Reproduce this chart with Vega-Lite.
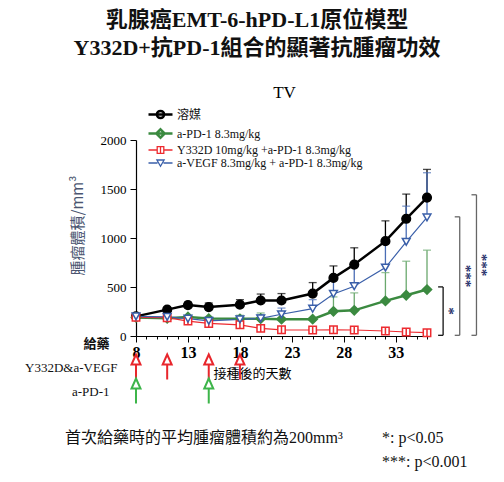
{
  "$schema": "https://vega.github.io/schema/vega-lite/v6.json",
  "width": 291,
  "height": 196,
  "autosize": {"type": "none"},
  "padding": {"left": 136, "top": 140, "right": 77, "bottom": 146},
  "background": "white",
  "title": {
    "text": ["乳腺癌EMT-6-hPD-L1原位模型", "Y332D+抗PD-1組合的顯著抗腫瘤功效"],
    "font": "Liberation Serif, Noto Sans CJK TC",
    "fontSize": 22,
    "fontWeight": "bold",
    "lineHeight": 28,
    "anchor": "middle",
    "frame": "bounds",
    "offset": 23,
    "color": "#111111"
  },
  "config": {
    "view": {"stroke": null},
    "axis": {"grid": false, "domainColor": "#000000", "tickColor": "#000000", "labelColor": "#000000"}
  },
  "datasets": {
    "tv": [
      {"group": "溶媒", "day": 8, "mean": 200, "upper": 210},
      {"group": "溶媒", "day": 11, "mean": 269, "upper": 290},
      {"group": "溶媒", "day": 13, "mean": 315, "upper": 345},
      {"group": "溶媒", "day": 15, "mean": 295, "upper": 337},
      {"group": "溶媒", "day": 18, "mean": 320, "upper": 371},
      {"group": "溶媒", "day": 20, "mean": 362, "upper": 428},
      {"group": "溶媒", "day": 22, "mean": 362, "upper": 433},
      {"group": "溶媒", "day": 25, "mean": 433, "upper": 545},
      {"group": "溶媒", "day": 27, "mean": 593, "upper": 715},
      {"group": "溶媒", "day": 29, "mean": 729, "upper": 900},
      {"group": "溶媒", "day": 32, "mean": 968, "upper": 1175},
      {"group": "溶媒", "day": 34, "mean": 1196, "upper": 1448},
      {"group": "溶媒", "day": 36, "mean": 1412, "upper": 1700},
      {"group": "a-PD-1 8.3mg/kg", "day": 8, "mean": 190, "upper": 200},
      {"group": "a-PD-1 8.3mg/kg", "day": 11, "mean": 180, "upper": 195},
      {"group": "a-PD-1 8.3mg/kg", "day": 13, "mean": 194, "upper": 205},
      {"group": "a-PD-1 8.3mg/kg", "day": 15, "mean": 178, "upper": 190},
      {"group": "a-PD-1 8.3mg/kg", "day": 18, "mean": 175, "upper": 211},
      {"group": "a-PD-1 8.3mg/kg", "day": 20, "mean": 177, "upper": 235},
      {"group": "a-PD-1 8.3mg/kg", "day": 22, "mean": 172, "upper": 185},
      {"group": "a-PD-1 8.3mg/kg", "day": 25, "mean": 172, "upper": 185},
      {"group": "a-PD-1 8.3mg/kg", "day": 27, "mean": 252, "upper": 399},
      {"group": "a-PD-1 8.3mg/kg", "day": 29, "mean": 262, "upper": 440},
      {"group": "a-PD-1 8.3mg/kg", "day": 32, "mean": 358, "upper": 647},
      {"group": "a-PD-1 8.3mg/kg", "day": 34, "mean": 416, "upper": 763},
      {"group": "a-PD-1 8.3mg/kg", "day": 36, "mean": 474, "upper": 876},
      {"group": "Y332D 10mg/kg +a-PD-1 8.3mg/kg", "day": 8, "mean": 190, "upper": 198},
      {"group": "Y332D 10mg/kg +a-PD-1 8.3mg/kg", "day": 11, "mean": 187, "upper": 195},
      {"group": "Y332D 10mg/kg +a-PD-1 8.3mg/kg", "day": 13, "mean": 152, "upper": 162},
      {"group": "Y332D 10mg/kg +a-PD-1 8.3mg/kg", "day": 15, "mean": 128, "upper": 138},
      {"group": "Y332D 10mg/kg +a-PD-1 8.3mg/kg", "day": 18, "mean": 114, "upper": 124},
      {"group": "Y332D 10mg/kg +a-PD-1 8.3mg/kg", "day": 20, "mean": 78, "upper": 86},
      {"group": "Y332D 10mg/kg +a-PD-1 8.3mg/kg", "day": 22, "mean": 63, "upper": 70},
      {"group": "Y332D 10mg/kg +a-PD-1 8.3mg/kg", "day": 25, "mean": 61, "upper": 68},
      {"group": "Y332D 10mg/kg +a-PD-1 8.3mg/kg", "day": 27, "mean": 64, "upper": 71},
      {"group": "Y332D 10mg/kg +a-PD-1 8.3mg/kg", "day": 29, "mean": 61, "upper": 68},
      {"group": "Y332D 10mg/kg +a-PD-1 8.3mg/kg", "day": 32, "mean": 51, "upper": 58},
      {"group": "Y332D 10mg/kg +a-PD-1 8.3mg/kg", "day": 34, "mean": 41, "upper": 48},
      {"group": "Y332D 10mg/kg +a-PD-1 8.3mg/kg", "day": 36, "mean": 34, "upper": 41},
      {"group": "a-VEGF 8.3mg/kg + a-PD-1 8.3mg/kg", "day": 8, "mean": 201, "upper": 212},
      {"group": "a-VEGF 8.3mg/kg + a-PD-1 8.3mg/kg", "day": 11, "mean": 196, "upper": 205},
      {"group": "a-VEGF 8.3mg/kg + a-PD-1 8.3mg/kg", "day": 13, "mean": 177, "upper": 190},
      {"group": "a-VEGF 8.3mg/kg + a-PD-1 8.3mg/kg", "day": 15, "mean": 155, "upper": 168},
      {"group": "a-VEGF 8.3mg/kg + a-PD-1 8.3mg/kg", "day": 18, "mean": 170, "upper": 190},
      {"group": "a-VEGF 8.3mg/kg + a-PD-1 8.3mg/kg", "day": 20, "mean": 180, "upper": 215},
      {"group": "a-VEGF 8.3mg/kg + a-PD-1 8.3mg/kg", "day": 22, "mean": 222, "upper": 285},
      {"group": "a-VEGF 8.3mg/kg + a-PD-1 8.3mg/kg", "day": 25, "mean": 279, "upper": 371},
      {"group": "a-VEGF 8.3mg/kg + a-PD-1 8.3mg/kg", "day": 27, "mean": 429, "upper": 603},
      {"group": "a-VEGF 8.3mg/kg + a-PD-1 8.3mg/kg", "day": 29, "mean": 508, "upper": 705},
      {"group": "a-VEGF 8.3mg/kg + a-PD-1 8.3mg/kg", "day": 32, "mean": 698, "upper": 944},
      {"group": "a-VEGF 8.3mg/kg + a-PD-1 8.3mg/kg", "day": 34, "mean": 961, "upper": 1325},
      {"group": "a-VEGF 8.3mg/kg + a-PD-1 8.3mg/kg", "day": 36, "mean": 1210, "upper": 1666}
    ],
    "dose": [
      {"drug": "Y332D&a-VEGF", "day": 8},
      {"drug": "Y332D&a-VEGF", "day": 11},
      {"drug": "Y332D&a-VEGF", "day": 15},
      {"drug": "Y332D&a-VEGF", "day": 18},
      {"drug": "a-PD-1", "day": 8},
      {"drug": "a-PD-1", "day": 15}
    ],
    "brackets": [
      {"comparison": "a-PD-1 vs Y332D", "day": 37.55, "low": 7, "high": 501, "sig": "*"},
      {"comparison": "a-VEGF vs Y332D", "day": 39.15, "low": 7, "high": 1216, "sig": "***"},
      {"comparison": "溶媒 vs Y332D", "day": 40.76, "low": 7, "high": 1441, "sig": "***"}
    ]
  },
  "encoding": {
    "x": {"field": "day", "type": "quantitative", "scale": {"domain": [8, 36], "nice": false, "zero": false},
      "axis": {
        "values": [8, 9, 10, 11, 12, 13, 14, 15, 16, 17, 18, 19, 20, 21, 22, 23, 24, 25, 26, 27, 28, 29, 30, 31, 32, 33, 34, 35, 36],
        "labelExpr": "(datum.value - 8) % 5 === 0 ? datum.label : ''",
        "format": "d",
        "labelFont": "Liberation Serif",
        "labelFontSize": 16,
        "labelFontWeight": "bold",
        "labelPadding": 2,
        "labelOverlap": false,
        "labelFlush": false,
        "tickSize": {"condition": {"test": "(datum.value - 8) % 5 === 0", "value": 6}, "value": 3},
        "tickWidth": 1,
        "domainWidth": 1.2,
        "title": "接種後的天數",
        "titleFont": "Noto Sans CJK TC",
        "titleFontSize": 13,
        "titleFontWeight": "normal",
        "titleColor": "#000000",
        "titleX": 116,
        "titleY": 37,
        "titleAlign": "center",
        "titleBaseline": "middle"
      }}
  },
  "resolve": {"scale": {"y": "independent"}},
  "layer": [
    {
      "layer": [
        {
          "data": {"name": "tv"},
          "mark": {"type": "rule", "strokeWidth": 1.3},
          "encoding": {
            "y": {"field": "mean", "type": "quantitative", "scale": {"domain": [0, 2000], "nice": false}, "title": "腫瘤體積/mm³"},
            "y2": {"field": "upper"},
            "color": {"condition": [
              {"test": "datum.group === '溶媒'", "value": "#000000"},
              {"test": "datum.group === 'a-PD-1 8.3mg/kg'", "value": "#6aa86d"},
              {"test": "datum.group === 'Y332D 10mg/kg +a-PD-1 8.3mg/kg'", "value": "#ed2b30"}
            ], "value": "#4a6db5"}
          }
        },
        {
          "data": {"name": "tv"},
          "mark": {"type": "tick", "orient": "horizontal", "size": 8, "thickness": 1.3},
          "encoding": {
            "y": {"field": "upper", "type": "quantitative", "scale": {"domain": [0, 2000], "nice": false}, "title": "腫瘤體積/mm³"},
            "color": {"condition": [
              {"test": "datum.group === '溶媒'", "value": "#000000"},
              {"test": "datum.group === 'a-PD-1 8.3mg/kg'", "value": "#6aa86d"},
              {"test": "datum.group === 'Y332D 10mg/kg +a-PD-1 8.3mg/kg'", "value": "#ed2b30"}
            ], "value": "#4a6db5"}
          }
        },
        {
          "data": {"name": "tv"},
          "mark": {"type": "line"},
          "encoding": {
            "y": {"field": "mean", "type": "quantitative", "scale": {"domain": [0, 2000], "nice": false},
              "axis": {
                "values": [0, 250, 500, 750, 1000, 1250, 1500, 1750, 2000],
                "labelExpr": "datum.value % 500 === 0 ? datum.label : ''",
                "format": "d",
                "labelFont": "Liberation Serif",
                "labelFontSize": 13,
                "labelPadding": 4,
                "tickSize": {"condition": {"test": "datum.value % 500 === 0", "value": 6}, "value": 3},
                "domainWidth": 1.2,
                "title": "腫瘤體積/mm³",
                "titleFont": "Noto Sans CJK TC",
                "titleFontSize": 15,
                "titleFontWeight": "normal",
                "titleColor": "#4a5570",
                "titleAngle": 270,
                "titleX": -59,
                "titleY": 85,
                "titleAlign": "center",
                "titleBaseline": "middle"
              }},
            "color": {"field": "group", "type": "nominal",
              "scale": {"domain": ["溶媒", "a-PD-1 8.3mg/kg", "Y332D 10mg/kg +a-PD-1 8.3mg/kg", "a-VEGF 8.3mg/kg + a-PD-1 8.3mg/kg"], "range": ["#000000", "#3b8a40", "#ed2b30", "#3a5fa9"]},
              "legend": {
                "orient": "none",
                "legendX": 17,
                "legendY": -33,
                "title": null,
                "labelFont": "Liberation Serif, Noto Sans CJK TC",
                "labelFontSize": 12,
                "labelColor": "#111111",
                "labelOffset": 9,
                "labelLimit": 400,
                "symbolSize": 144,
                "symbolStrokeWidth": 1.5,
                "symbolOpacity": 1,
                "rowPadding": 0
              }},
            "strokeWidth": {"condition": {"test": "datum.group === '溶媒' || datum.group === 'a-PD-1 8.3mg/kg'", "value": 2.5}, "value": 1.2}
          }
        },
        {
          "data": {"name": "tv"},
          "mark": {"type": "point", "filled": false, "opacity": 0},
          "encoding": {
            "y": {"field": "mean", "type": "quantitative", "scale": {"domain": [0, 2000], "nice": false}, "title": "腫瘤體積/mm³"},
            "color": {"field": "group", "type": "nominal"},
            "fill": {"field": "group", "type": "nominal",
              "scale": {"domain": ["溶媒", "a-PD-1 8.3mg/kg", "Y332D 10mg/kg +a-PD-1 8.3mg/kg", "a-VEGF 8.3mg/kg + a-PD-1 8.3mg/kg"], "range": ["#000000", "#3b8a40", "#ffffff", "#ffffff"]}},
            "shape": {"field": "group", "type": "nominal",
              "scale": {"domain": ["溶媒", "a-PD-1 8.3mg/kg", "Y332D 10mg/kg +a-PD-1 8.3mg/kg", "a-VEGF 8.3mg/kg + a-PD-1 8.3mg/kg"],
                "range": [
                  "M-2,0H2M0.6,0A0.6,0.6,0,1,1,-0.6,0A0.6,0.6,0,1,1,0.6,0Z",
                  "M-2,0H2M0,-0.7L0.7,0L0,0.7L-0.7,0Z",
                  "M-2,0H-0.55M0.55,0H2M-0.55,-0.55H0.55V0.55H-0.55Z M0,-0.55V0.55",
                  "M-2,0H-0.5M0.5,0H2M-0.6,-0.5H0.6L0,0.55Z"
                ]}},
            "strokeWidth": {"field": "group", "type": "nominal",
              "scale": {"type": "ordinal", "domain": ["溶媒", "a-PD-1 8.3mg/kg", "Y332D 10mg/kg +a-PD-1 8.3mg/kg", "a-VEGF 8.3mg/kg + a-PD-1 8.3mg/kg"], "range": [2.5, 2.5, 1.3, 1.3]}}
          }
        },
        {
          "data": {"name": "tv"},
          "mark": {"type": "point", "filled": false, "strokeWidth": 1.5, "opacity": 1},
          "encoding": {
            "y": {"field": "mean", "type": "quantitative", "scale": {"domain": [0, 2000], "nice": false}, "title": "腫瘤體積/mm³"},
            "stroke": {"condition": [
              {"test": "datum.group === '溶媒'", "value": "#000000"},
              {"test": "datum.group === 'a-PD-1 8.3mg/kg'", "value": "#3b8a40"},
              {"test": "datum.group === 'Y332D 10mg/kg +a-PD-1 8.3mg/kg'", "value": "#ed2b30"}
            ], "value": "#3a5fa9"},
            "fill": {"condition": [
              {"test": "datum.group === '溶媒'", "value": "#000000"},
              {"test": "datum.group === 'a-PD-1 8.3mg/kg'", "value": "#3b8a40"}
            ], "value": "#ffffff"},
            "shape": {"condition": [
              {"test": "datum.group === '溶媒'", "value": "circle"},
              {"test": "datum.group === 'a-PD-1 8.3mg/kg'", "value": "diamond"},
              {"test": "datum.group === 'Y332D 10mg/kg +a-PD-1 8.3mg/kg'", "value": "M-1,-1H1V1H-1Z M0,-1V1"}
            ], "value": "triangle-down"},
            "size": {"condition": [
              {"test": "datum.group === '溶媒'", "value": 75},
              {"test": "datum.group === 'a-PD-1 8.3mg/kg'", "value": 85},
              {"test": "datum.group === 'Y332D 10mg/kg +a-PD-1 8.3mg/kg'", "value": 55}
            ], "value": 60}
          }
        },
        {
          "data": {"name": "brackets"},
          "mark": {"type": "rule", "strokeWidth": 1.3},
          "encoding": {
            "y": {"field": "low", "type": "quantitative", "scale": {"domain": [0, 2000], "nice": false}, "title": "腫瘤體積/mm³"},
            "y2": {"field": "high"},
            "color": {"condition": {"test": "datum.sig === '*'", "value": "#111111"}, "value": "#666666"},
            "strokeDash": {"field": "sig", "type": "nominal",
              "scale": {"domain": ["*", "***"], "range": [[1, 0], [1, 0]]},
              "legend": {
                "orient": "none",
                "legendX": -71,
                "legendY": 290,
                "title": "首次給藥時的平均腫瘤體積約為200mm³",
                "titleOrient": "left",
                "titleAnchor": "start",
                "titleBaseline": "top",
                "titleFont": "Liberation Serif, Noto Sans CJK TC",
                "titleFontSize": 16,
                "titleFontWeight": "normal",
                "titleColor": "#111111",
                "titlePadding": 23,
                "titleLimit": 400,
                "labelExpr": "datum.value === '*' ? '*: p<0.05' : '***: p<0.001'",
                "labelFont": "Liberation Serif",
                "labelFontSize": 16,
                "labelColor": "#111111",
                "labelOffset": 0,
                "symbolSize": 0,
                "symbolStrokeWidth": 0,
                "symbolOpacity": 0,
                "rowPadding": 8
              }}
          }
        },
        {
          "data": {"name": "brackets"},
          "mark": {"type": "rule", "strokeWidth": 1.3, "x2Offset": -5},
          "encoding": {
            "x2": {"field": "day"},
            "y": {"field": "high", "type": "quantitative", "scale": {"domain": [0, 2000], "nice": false}, "title": "腫瘤體積/mm³"},
            "color": {"condition": {"test": "datum.sig === '*'", "value": "#111111"}, "value": "#666666"}
          }
        },
        {
          "data": {"name": "brackets"},
          "mark": {"type": "rule", "strokeWidth": 1.3, "x2Offset": -5},
          "encoding": {
            "x2": {"field": "day"},
            "y": {"field": "low", "type": "quantitative", "scale": {"domain": [0, 2000], "nice": false}, "title": "腫瘤體積/mm³"},
            "color": {"condition": {"test": "datum.sig === '*'", "value": "#111111"}, "value": "#666666"}
          }
        },
        {
          "data": {"name": "brackets"},
          "transform": [{"fold": ["low", "high"], "as": ["end", "v"]}],
          "mark": {"type": "text", "angle": 90, "font": "Liberation Serif", "fontSize": 15, "fontWeight": "bold", "color": "#26306a", "align": "center", "baseline": "middle", "dy": -6},
          "encoding": {
            "y": {"aggregate": "mean", "field": "v", "type": "quantitative", "scale": {"domain": [0, 2000], "nice": false}, "title": "腫瘤體積/mm³"},
            "text": {"field": "sig", "type": "nominal"}
          }
        }
      ]
    },
    {
      "data": {"name": "dose"},
      "mark": {"type": "point", "shape": "M0,-1L0.36,-0.2L-0.36,-0.2Z M0,-0.2L0,1", "size": 625, "filled": false, "fill": "#ffffff", "strokeWidth": 2, "opacity": 1},
      "encoding": {
        "y": {"field": "drug", "type": "nominal",
          "scale": {"type": "point", "domain": ["給藥", "Y332D&a-VEGF", "a-PD-1"], "range": [203, 251], "padding": 0},
          "axis": {
            "orient": "left",
            "domain": false,
            "ticks": false,
            "labelFont": {"condition": {"test": "datum.value === '給藥'", "value": "Noto Sans CJK TC"}, "value": "Liberation Serif"},
            "labelFontWeight": {"condition": {"test": "datum.value === '給藥'", "value": "bold"}, "value": "normal"},
            "labelFontSize": 13,
            "labelColor": "#111111",
            "labelPadding": {"condition": {"test": "datum.value === 'Y332D&a-VEGF'", "value": 19}, "value": 27},
            "title": "TV",
            "titleAngle": 0,
            "titleX": 148,
            "titleY": -48,
            "titleFont": "Liberation Serif",
            "titleFontSize": 17,
            "titleFontWeight": "normal",
            "titleColor": "#000000",
            "titleAlign": "center",
            "titleBaseline": "middle"
          }},
        "stroke": {"condition": {"test": "datum.drug === 'a-PD-1'", "value": "#3db54a"}, "value": "#e8262c"}
      }
    }
  ]
}
